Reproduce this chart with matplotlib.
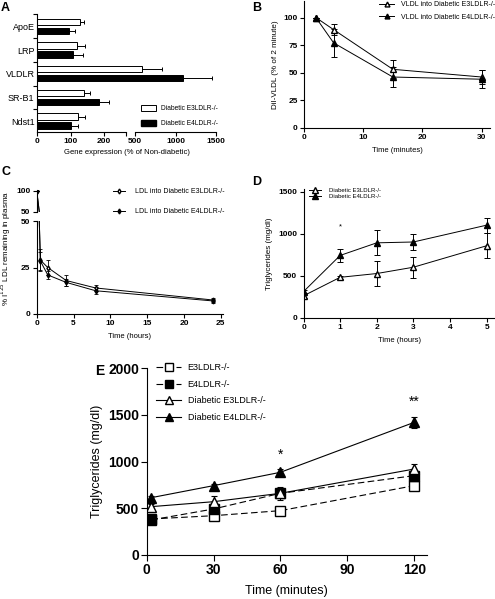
import numpy as np
import matplotlib
matplotlib.use('Agg')
import matplotlib.pyplot as plt
from matplotlib.lines import Line2D
from matplotlib.patches import Patch

plt.rcParams['font.family'] = ['Liberation Sans', 'DejaVu Sans']
plt.rcParams['axes.linewidth'] = 0.8
plt.rcParams['lines.linewidth'] = 0.7

W, H = 495, 599

# A: gene expression (% of non-diabetic)
genes = ['ApoE', 'LRP', 'VLDLR', 'SR-B1', 'Ndst1']
a_e3 = [128, 118, 589, 138, 121]
a_e3_err = [12, 23, 249, 18, 22]
a_e4 = [96, 106, 1086, 184, 101]
a_e4_err = [17, 29, 360, 29, 20]

# B: DiI-VLDL clearance
b_time = [2, 5, 15, 30]
b_e3 = [100, 89, 53, 46]
b_e3_err = [0, 5, 8, 6]
b_e4 = [100, 77, 46, 44]
b_e4_err = [0, 13, 9, 8]

# C: 125I-LDL remaining
c_time = [0, 0.5, 1.5, 4, 8, 24]
c_e3 = [100, 29, 25, 18, 14, 7.5]
c_e3_err = [0, 6, 4, 3, 1.5, 1]
c_e4 = [100, 28.5, 21, 17, 12.5, 7]
c_e4_err = [0, 5, 2, 2, 2, 1]

# D: triglycerides (hours)
d_time = [0, 1, 2, 3, 5]
d_e3 = [260, 480, 525, 600, 855]
d_e3_err = [20, 20, 150, 125, 150]
d_e4 = [310, 740, 890, 900, 1100]
d_e4_err = [20, 80, 150, 90, 90]

# E: triglycerides (minutes)
e_time = [2, 30, 60, 120]
e_e3 = [386, 421, 475, 743]
e_e3_err = [15, 15, 20, 25]
e_e4 = [375, 493, 661, 850]
e_e4_err = [15, 20, 25, 30]
e_de3 = [518, 571, 661, 921]
e_de3_err = [30, 65, 70, 55]
e_de4 = [614, 743, 886, 1421]
e_de4_err = [20, 20, 30, 60]

fig = plt.figure(figsize=(W / 100, H / 100), dpi=100)


def px_axes(x0, y0, x1, y1):
    ax = fig.add_axes([x0 / W, 1 - y1 / H, (x1 - x0) / W, (y1 - y0) / H])
    ax.patch.set_visible(False)
    return ax


def style(ax, size=6, bold=True):
    for s in ['top', 'right']:
        ax.spines[s].set_visible(False)
    ax.tick_params(direction='out', length=3, width=0.8, labelsize=size, pad=1.5)
    if bold:
        for lab in ax.get_xticklabels() + ax.get_yticklabels():
            lab.set_fontweight('bold')


def legend_at(ax, handles, labels, x, y, size, **kw):
    return ax.legend(handles, labels, loc='upper left', bbox_to_anchor=(x / W, 1 - y / H),
                     bbox_transform=fig.transFigure, frameon=False, borderpad=0,
                     borderaxespad=0, fontsize=size, **kw)


# ---- A ----
brk_in = [0, 265, 500, 1500]
brk_out = [0, 265, 292, 533.6]
fwd = lambda x: np.interp(x, brk_in, brk_out)
inv = lambda x: np.interp(x, brk_out, brk_in)

axA = px_axes(37.3, 14, 216, 132)
axA.set_xscale('function', functions=(fwd, inv))
pos = np.arange(len(genes))
axA.barh(pos - 0.19, a_e3, height=0.27, color='white', edgecolor='black', linewidth=0.7,
         xerr=[np.zeros(5), a_e3_err], error_kw=dict(elinewidth=0.7, capsize=1.5, capthick=0.7),
         label='Diabetic E3LDLR-/-')
axA.barh(pos + 0.19, a_e4, height=0.27, color='black', edgecolor='black', linewidth=0.7,
         xerr=[np.zeros(5), a_e4_err], error_kw=dict(elinewidth=0.7, capsize=1.5, capthick=0.7),
         label='Diabetic E4LDLR-/-')
axA.set_xlim(0, 1500)
axA.set_ylim(4.46, -0.52)
axA.set_xticks([0, 100, 200, 265, 500, 1000, 1500])
axA.set_xticklabels(['0', '100', '200', '', '500', '1000', '1500'])
axA.set_yticks(pos)
axA.set_yticklabels(genes)
axA.set_yticks(np.arange(-0.5, 4, 1), minor=True)
style(axA)
axA.tick_params(axis='y', which='major', length=0, labelsize=6.5, pad=2)
axA.tick_params(axis='y', which='minor', length=3, width=0.8)
for lab in axA.get_yticklabels():
    lab.set_fontweight('normal')
axA.spines['bottom'].set_bounds(0, 265)
axA.plot([500, 1500], [0, 0], color='black', lw=0.8, clip_on=False,
         transform=axA.get_xaxis_transform())
axA.set_xlabel('Gene expression (% of Non-diabetic)', fontsize=5.5, labelpad=3)
legend_at(axA, [Patch(facecolor='white', edgecolor='black', lw=0.7),
                Patch(facecolor='black', edgecolor='black')],
          ['Diabetic E3LDLR-/-', 'Diabetic E4LDLR-/-'], 141, 105, 4.8,
          handlelength=2.2, handleheight=1.0, labelspacing=1.1, handletextpad=0.8)

# ---- B ----
axB = px_axes(304, 1, 490, 127.7)
axB.errorbar(b_time, b_e3, yerr=b_e3_err, marker='^', ms=4.5, mfc='white', mec='black',
             color='black', capsize=2, elinewidth=0.7, capthick=0.7)
axB.errorbar(b_time, b_e4, yerr=b_e4_err, marker='^', ms=4.5, mfc='black', mec='black',
             color='black', capsize=2, elinewidth=0.7, capthick=0.7)
axB.set_xlim(0, 31.4)
axB.set_ylim(0, 115)
axB.set_xticks([0, 10, 20, 30])
axB.set_yticks([0, 25, 50, 75, 100])
style(axB)
axB.set_xlabel('Time (minutes)', fontsize=5.5, labelpad=4)
axB.set_ylabel('DiI-VLDL (% of 2 minute)', fontsize=5.8, labelpad=3)
legend_at(axB, [Line2D([], [], color='black', marker='^', ms=3.5, mfc='white', lw=0.7),
                Line2D([], [], color='black', marker='^', ms=3.5, mfc='black', lw=0.7)],
          ['VLDL into Diabetic E3LDLR-/-', 'VLDL into Diabetic E4LDLR-/-'], 379, 1.5, 5,
          handlelength=2.2, labelspacing=0.75, handletextpad=1.0)

# ---- C (broken y axis) ----
axC = px_axes(36.7, 221, 223, 314)
axC_top = px_axes(36.7, 190, 223, 211.7)
for ax in (axC, axC_top):
    ax.errorbar(c_time, c_e3, yerr=c_e3_err, marker='d', ms=2.5, mfc='white', mec='black',
                color='black', capsize=1.5, elinewidth=0.6, capthick=0.6, lw=0.7)
    ax.errorbar(c_time, c_e4, yerr=c_e4_err, marker='d', ms=2.5, mfc='black', mec='black',
                color='black', capsize=1.5, elinewidth=0.6, capthick=0.6, lw=0.7)
    ax.set_xlim(0, 25.3)
axC.set_ylim(0, 50)
axC.set_yticks([0, 25, 50])
axC.set_xticks([0, 5, 10, 15, 20, 25])
axC_top.set_ylim(50, 101.5)
axC_top.set_yticks([50, 100])
style(axC)
style(axC_top)
axC_top.spines['bottom'].set_visible(False)
axC_top.tick_params(axis='x', bottom=False, labelbottom=False)
axC.set_xlabel('Time (hours)', fontsize=5.5, labelpad=4)
fig.text(6 / W, 1 - 248 / H, '% I$^{125}$ LDL remaining in plasma', rotation=90,
         fontsize=5.8, ha='center', va='center')
legend_at(axC_top, [Line2D([], [], color='black', marker='d', ms=2.5, mfc='white', lw=0.7),
                    Line2D([], [], color='black', marker='d', ms=2.5, mfc='black', lw=0.7)],
          ['LDL into Diabetic E3LDLR-/-', 'LDL into Diabetic E4LDLR-/-'], 113, 188, 5,
          handlelength=1.7, labelspacing=1.9, handletextpad=1.4)

# ---- D ----
axD = px_axes(303.5, 189, 495, 317.7)
axD.errorbar(d_time, d_e3, yerr=d_e3_err, marker='^', ms=4.5, mfc='white', mec='black',
             color='black', capsize=2, elinewidth=0.7, capthick=0.7)
axD.errorbar(d_time, d_e4, yerr=d_e4_err, marker='^', ms=4.5, mfc='black', mec='black',
             color='black', capsize=2, elinewidth=0.7, capthick=0.7)
axD.text(1, 1080, '*', ha='center', va='center', fontsize=5.5)
axD.set_xlim(0, 5.23)
axD.set_ylim(0, 1530)
axD.set_xticks([0, 1, 2, 3, 4, 5])
axD.set_yticks([0, 500, 1000, 1500])
style(axD)
axD.set_xlabel('Time (hours)', fontsize=5.5, labelpad=4)
axD.set_ylabel('Triglycerides (mg/dl)', fontsize=5.8, labelpad=4)
legend_at(axD, [Line2D([], [], color='black', marker='^', ms=4, mfc='white', lw=0.7),
                Line2D([], [], color='black', marker='^', ms=4, mfc='black', lw=0.7)],
          ['Diabetic E3LDLR-/-', 'Diabetic E4LDLR-/-'], 309, 188, 4.3,
          handlelength=2.0, labelspacing=0.15, handletextpad=1.3)

# ---- E ----
axE = px_axes(146.7, 368.3, 426.7, 555)
kw = dict(color='black', capsize=2.5, elinewidth=0.8, capthick=0.8, lw=0.8, ms=7)
axE.errorbar(e_time, e_e3, yerr=e_e3_err, marker='s', mfc='white', mec='black',
             ls=(0, (6, 3)), **kw)
axE.errorbar(e_time, e_e4, yerr=e_e4_err, marker='s', mfc='black', mec='black',
             ls=(0, (6, 3)), **kw)
axE.errorbar(e_time, e_de3, yerr=e_de3_err, marker='^', mfc='white', mec='black', **kw)
axE.errorbar(e_time, e_de4, yerr=e_de4_err, marker='^', mfc='black', mec='black', **kw)
axE.text(60, 1070, '*', ha='center', va='center', fontsize=10)
axE.text(120, 1640, '**', ha='center', va='center', fontsize=10)
axE.set_xlim(0, 125.6)
axE.set_ylim(0, 2000)
axE.set_xticks([0, 30, 60, 90, 120])
axE.set_yticks([0, 500, 1000, 1500, 2000])
style(axE, size=10)
axE.tick_params(length=4)
axE.set_xlabel('Time (minutes)', fontsize=9, labelpad=6)
axE.set_ylabel('Triglycerides (mg/dl)', fontsize=9, labelpad=4)
legend_at(axE, [Line2D([], [], color='black', marker='s', ms=6, mfc='white', lw=0.8, ls=(0, (6, 3))),
                Line2D([], [], color='black', marker='s', ms=6, mfc='black', lw=0.8, ls=(0, (6, 3))),
                Line2D([], [], color='black', marker='^', ms=6, mfc='white', lw=0.8),
                Line2D([], [], color='black', marker='^', ms=6, mfc='black', lw=0.8)],
          ['E3LDLR-/-', 'E4LDLR-/-', 'Diabetic E3LDLR-/-', 'Diabetic E4LDLR-/-'],
          156, 363, 6.5, handlelength=2.8, labelspacing=0.85, handletextpad=0.7)

# panel letters
for letter, x, y, size in [('A', 1, 8, 9), ('B', 252, 8, 9), ('C', 1, 172, 9),
                           ('D', 252, 182, 9), ('E', 95, 371, 10)]:
    fig.text(x / W, 1 - y / H, letter, fontsize=size, fontweight='bold', va='center')

fig.savefig('out.png', dpi=100)
